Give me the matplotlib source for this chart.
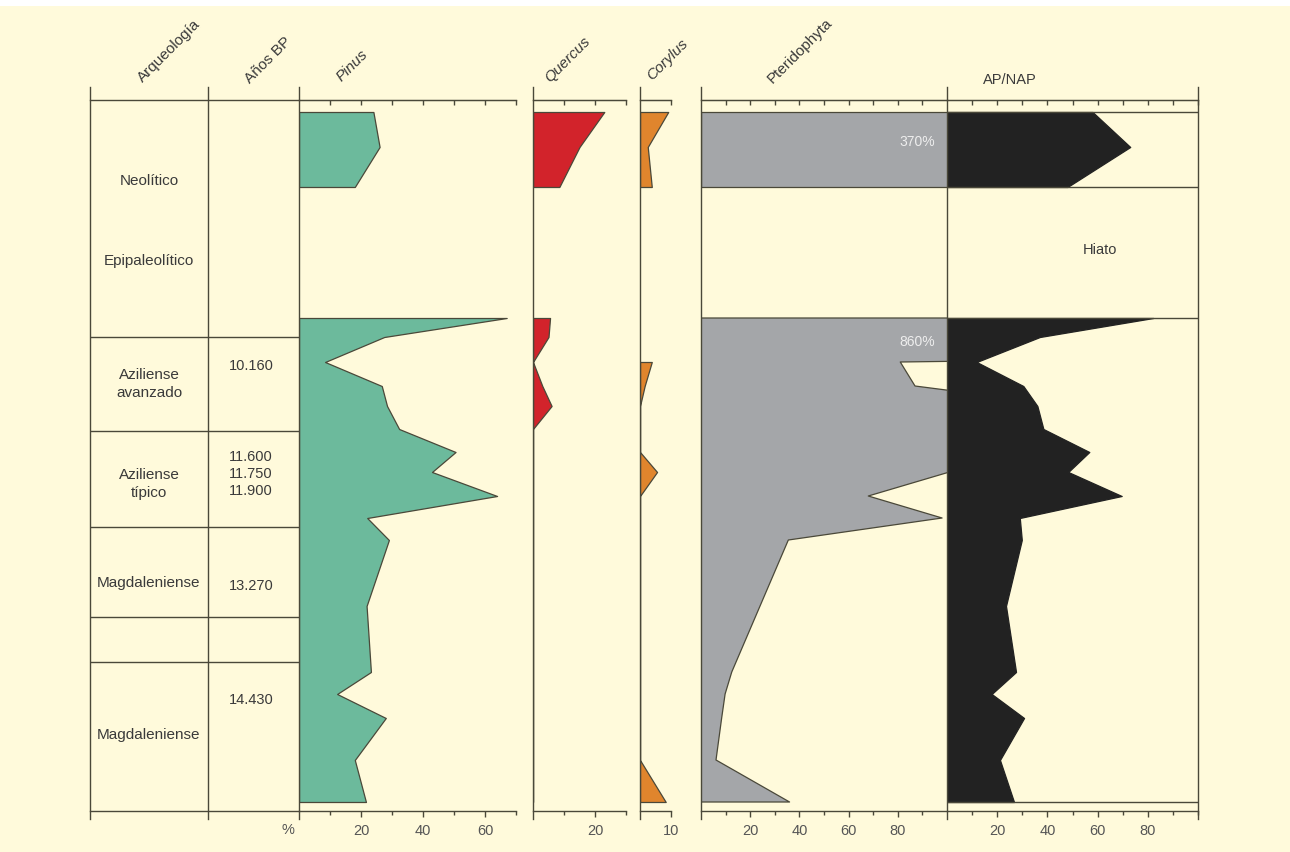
import numpy as np
import matplotlib
matplotlib.use("Agg")
import matplotlib.pyplot as plt
from matplotlib.patches import Rectangle

plt.rcParams['font.family'] = ['Liberation Sans', 'DejaVu Sans']

# sample depths below the top of the sequence (two sections separated by the hiatus)
depth_neol = [0, 35, 75]
depth_mag = [206, 225, 250, 274, 294, 317, 340, 360, 384, 406, 428, 494, 560, 582, 606, 648, 690]
section_lines = [0, 75, 206, 690]
nan = np.nan

pinus_neol = [24, 26, 18]
pinus_mag = [67, 27.5, 8.4, 26.7, 28.4, 32.3, 50.5, 42.9, 63.9, 22, 29, 21.8, 23.2, 12.3, 28, 18, 21.6]
quercus_neol = [23, 15, 8.5]
quercus_mag = [5.5, 5, 0, 3, 6, 0, 0, 0, 0, 0, 0, 0, 0, 0, 0, 0, 0]
corylus_neol = [9.1, 2.5, 3.8]
corylus_mag = [nan, nan, 3.8, 1.5, 0, 0, 0, 5.5, 0, 0, 0, 0, 0, 0, 0, 0, 8.3]
pterid_neol = [370, 370, 370]
pterid_mag = [860, 860, 81, 87, 150, 150, 150, 101, 68, 98, 35.5, 24, 12.5, 9.8, 8.4, 6.1, 36]
apnap_neol = [58, 73, 48]
apnap_mag = [82.2, 37, 11.8, 30.4, 36, 38.4, 56.7, 48.3, 69.6, 29, 29.8, 23.5, 27.5, 17.8, 30.7, 21.1, 26.7]

arq_labels = ['Neolítico', 'Epipaleolítico', 'Aziliense\navanzado', 'Aziliense\ntípico',
              'Magdaleniense', 'Magdaleniense']
arq_depth = [68, 148, 271, 371, 470, 622]
bp_labels = ['10.160', '11.600\n11.750\n11.900', '13.270', '14.430']
bp_depth = [253, 361, 473, 587]
row_lines = [225, 319, 415, 505, 550]

W, H = 1290, 853
BG = '#fffadb'
LINE = '#4a4839'
TXT = '#3a3a3a'

fig = plt.figure(figsize=(W / 100, H / 100), dpi=100, facecolor=BG)
fig.patches.append(Rectangle((0, 1 - 7 / H), 1, 7 / H, transform=fig.transFigure,
                             facecolor='white', edgecolor='none'))

TOP, BOT = 101, 812


def make_axes(x0, x1):
    ax = fig.add_axes([x0 / W, 1 - BOT / H, (x1 - x0) / W, (BOT - TOP) / H])
    ax.set_facecolor('none')
    ax.set_ylim(699, -12)
    ax.set_yticks([])
    for s in ['left', 'right']:
        ax.spines[s].set_visible(False)
    for s in ['top', 'bottom']:
        ax.spines[s].set_color(LINE)
        ax.spines[s].set_linewidth(1.0)
    return ax


def vline(ax, x):
    ax.plot([x, x], [-0.0113, 1.0183], transform=ax.get_xaxis_transform(),
            color=LINE, lw=1.0, clip_on=False, zorder=5)


def panel(x0, x1, xmax, major, minor):
    ax = make_axes(x0, x1)
    ax.set_xlim(0, xmax)
    ax.set_xticks(major)
    ax.set_xticks(minor, minor=True)
    ax.tick_params(axis='x', which='both', direction='out', color=LINE, width=1.0,
                   labelsize=10.5, labelcolor='#555555', pad=4)
    ax.tick_params(axis='x', which='major', length=4.5)
    ax.tick_params(axis='x', which='minor', length=3)
    sec = ax.secondary_xaxis('top')
    sec.set_xticks(list(major) + list(minor))
    sec.tick_params(direction='in', length=3.5, width=1.0, color=LINE, labeltop=False)
    sec.spines['top'].set_color(LINE)
    vline(ax, 0)
    return ax


def draw(ax, neol, mag, color, edge=LINE):
    for d, v in [(depth_neol, neol), (depth_mag, mag)]:
        ax.fill_betweenx(d, 0, v, facecolor=color, edgecolor=edge, linewidth=0.9, zorder=2)


# table of cultural periods and dates
tab = make_axes(90, 299)
tab.set_xlim(0, 1)
tab.set_xticks([])
vline(tab, 0)
vline(tab, 0.565)
for d in row_lines:
    tab.axhline(d, color=LINE, lw=1.0)
for lab, d in zip(arq_labels, arq_depth):
    tab.text(0.282, d, lab, ha='center', va='center', fontsize=11, color=TXT, linespacing=1.45)
for lab, d in zip(bp_labels, bp_depth):
    tab.text(0.77, d, lab, ha='center', va='center', fontsize=10.5, color=TXT, linespacing=1.3)

ax_p = panel(299, 516, 70, [20, 40, 60], [10, 30, 50, 70])
draw(ax_p, pinus_neol, pinus_mag, '#6cba9c')

ax_q = panel(533, 626, 30, [20], [10, 30])
draw(ax_q, quercus_neol, quercus_mag, '#d2232b')

ax_c = panel(640, 671, 10, [10], [])
draw(ax_c, corylus_neol, corylus_mag, '#e0852d')

ax_t = panel(701, 947, 100, [20, 40, 60, 80], [10, 30, 50, 70, 90])
draw(ax_t, pterid_neol, pterid_mag, '#a4a6a9')
ax_t.text(88, 29, '370%', ha='center', va='center', fontsize=10, color='#eeeeee')
ax_t.text(88, 229, '860%', ha='center', va='center', fontsize=10, color='#eeeeee')

ax_a = panel(947, 1198, 100, [20, 40, 60, 80], [10, 30, 50, 70, 90, 100])
draw(ax_a, apnap_neol, apnap_mag, '#222222', edge='#222222')
for d in section_lines:
    ax_a.axhline(d, color=LINE, lw=1.0, zorder=3)
vline(ax_a, 100)
ax_a.text(61, 137, 'Hiato', ha='center', va='center', fontsize=10.5, color=TXT)

# headers
heads = [('Arqueología', 169, 51, 'normal'), ('Años BP', 268, 60, 'normal'),
         ('Pinus', 352, 66, 'italic'), ('Quercus', 568, 60, 'italic'),
         ('Corylus', 668, 60, 'italic'), ('Pteridophyta', 800, 51, 'normal')]
for txt, x, y, st in heads:
    fig.text(x / W, 1 - y / H, txt, rotation=45, ha='center', va='center',
             rotation_mode='anchor', fontsize=11, color=TXT, style=st)
fig.text(1010 / W, 1 - 80 / H, 'AP/NAP', ha='center', va='center', fontsize=10.5, color=TXT)
fig.text(288 / W, 1 - 830 / H, '%', ha='center', va='center', fontsize=10.5, color='#555555')

fig.savefig('out.png', dpi=100, facecolor=BG)
